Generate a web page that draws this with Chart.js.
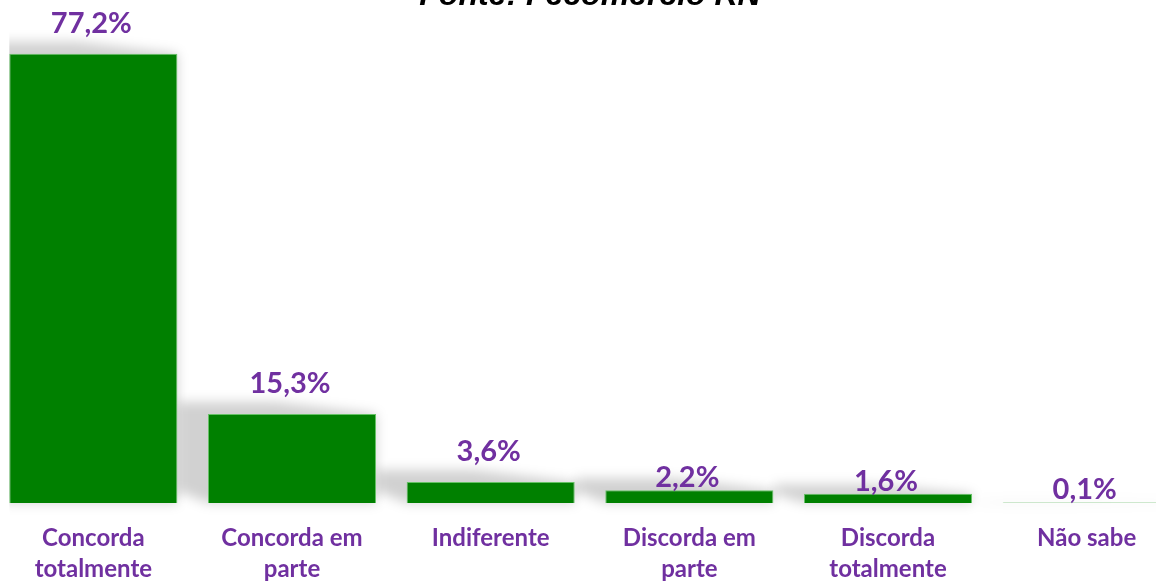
<!DOCTYPE html>
<html>
<head>
<meta charset="utf-8">
<script src="https://cdn.jsdelivr.net/npm/chart.js@4"></script>
<style>
  html, body { margin: 0; padding: 0; background: #fff; overflow: hidden; }
  body { width: 1156px; height: 581px; position: relative; }
  #wrap { position: absolute; left: -6px; top: -26px; width: 1192px; height: 631px; }
</style>
</head>
<body>
<div id="wrap"><canvas id="barChart"></canvas></div>
<script>
// Chart data
var categories = [
  ["Concorda", "totalmente"],
  ["Concorda em", "parte"],
  "Indiferente",
  ["Discorda em", "parte"],
  ["Discorda", "totalmente"],
  "Não sabe"
];
var percentages = [77.2, 15.3, 3.6, 2.2, 1.6, 0.1];

var purple = "#7030A0";
var green = "#008000";

// Soft shadow cast to the left of each bar
var barShadow = {
  id: "barShadow",
  beforeDatasetsDraw: function (chart) {
    var ctx = chart.ctx;
    var meta = chart.getDatasetMeta(0);
    var first = meta.data[0];
    ctx.save();
    ctx.beginPath();
    ctx.rect(first.x - first.width / 2, 0, chart.width, chart.height);
    ctx.clip();
    ctx.fillStyle = "rgba(0,0,0,0.18)";
    ctx.filter = "blur(6px)";
    meta.data.forEach(function (bar) {
      var h = bar.base - bar.y;
      var dx = 30;
      var dy = Math.min(12, h);
      var left = bar.x - bar.width / 2;
      var right = bar.x + bar.width / 2;
      ctx.beginPath();
      ctx.moveTo(left, bar.base);
      ctx.lineTo(left - dx, bar.base - dy);
      ctx.lineTo(left - dx, bar.y - dy);
      ctx.lineTo(left + bar.width * 0.4, bar.y - dy);
      ctx.lineTo(right, bar.y);
      ctx.lineTo(right, bar.base);
      ctx.closePath();
      ctx.fill();
    });
    ctx.restore();
  }
};

// Value labels above each bar
var valueLabels = {
  id: "valueLabels",
  afterDraw: function (chart) {
    var ctx = chart.ctx;
    var meta = chart.getDatasetMeta(0);
    ctx.save();
    ctx.fillStyle = purple;
    ctx.font = "bold 29px Lato";
    ctx.textAlign = "center";
    ctx.textBaseline = "bottom";
    meta.data.forEach(function (bar, i) {
      var h = bar.base - bar.y;
      var gap = h > 15 ? 16 : -2;
      var txt = percentages[i].toFixed(1).replace(".", ",") + "%";
      ctx.fillText(txt, bar.x - 2, bar.y - gap);
    });
    ctx.restore();
  }
};

var ctx = document.getElementById("barChart").getContext("2d");
var myChart = new Chart(ctx, {
  type: "bar",
  data: {
    labels: categories,
    datasets: [
      {
        data: percentages,
        backgroundColor: green,
        borderColor: "#66c266",
        borderWidth: 1,
        categoryPercentage: 1,
        barPercentage: 0.846
      }
    ]
  },
  options: {
    responsive: true,
    maintainAspectRatio: false,
    animation: false,
    layout: { padding: 0 },
    plugins: {
      legend: { display: false },
      tooltip: { enabled: false },
      title: {
        display: true,
        text: "Fonte: Fecomércio RN",
        color: "#000",
        font: { family: "Liberation Sans", size: 32, weight: "bold", style: "italic", lineHeight: 1.2 },
        padding: { top: 3, bottom: 22 }
      }
    },
    scales: {
      x: {
        grid: { display: false, drawTicks: false },
        border: { display: false },
        ticks: {
          color: purple,
          font: { family: "Lato", size: 24, weight: "bold", lineHeight: 1.29 },
          padding: 20,
          maxRotation: 0,
          autoSkip: false
        }
      },
      y: {
        display: false,
        min: 0,
        max: 80
      }
    }
  },
  plugins: [barShadow, valueLabels]
});
</script>
</body>
</html>
